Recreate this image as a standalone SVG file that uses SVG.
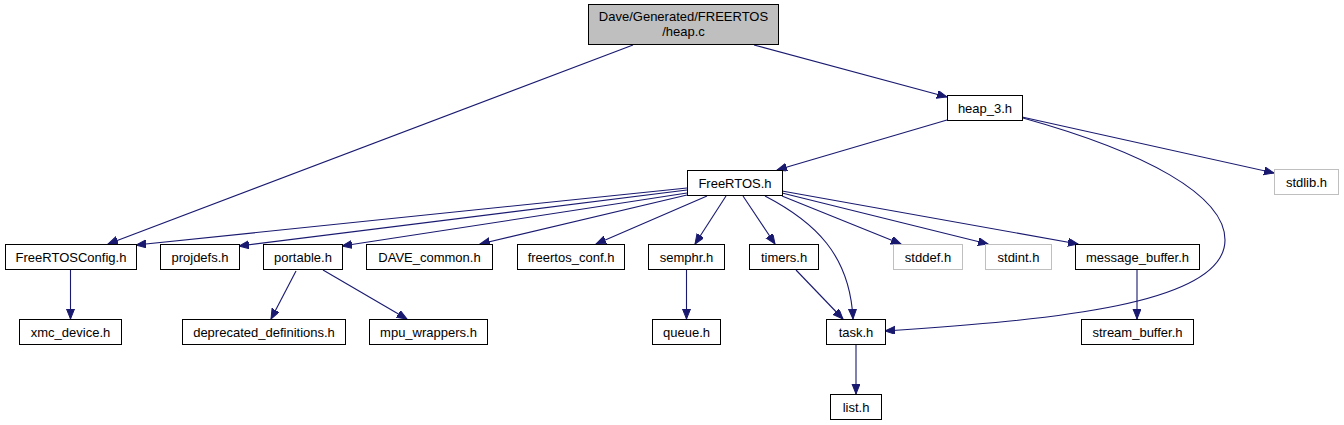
<svg xmlns="http://www.w3.org/2000/svg" width="1344" height="425" viewBox="0 0 1344 425">
<defs>
<style>
.n rect{fill:#fff;stroke:#000;stroke-width:1}
.n.g rect{stroke:#bfbfbf}
.n.root rect{fill:#bfbfbf}
.n text{font-family:"Liberation Sans",Arial,sans-serif;font-size:13px;fill:#000;text-anchor:middle}
.e path{fill:none;stroke:#191970;stroke-width:1.1;marker-end:url(#ah)}
</style>
<marker id="ah" markerUnits="userSpaceOnUse" markerWidth="12" markerHeight="10" refX="10" refY="4" orient="auto">
<path d="M0,0 L10,4 L0,8 z" fill="#191970" stroke="#191970" stroke-width="1"/>
</marker>
</defs>
<rect width="1344" height="425" fill="#fff"/>
<g id="edges" class="e">
<path d="M633,45 L108,244"/>
<path d="M754,45 L947,97"/>
<path d="M947,120 L777,170"/>
<path d="M1022,117 L1274,173"/>
<path d="M1023,118 C1145,152 1225,195 1225,240 C1225,305 1050,320 885,331"/>
<path d="M687,188 L136,245"/>
<path d="M687,190 L239,246"/>
<path d="M687,193 L342,246"/>
<path d="M687,195 L480,244"/>
<path d="M707,196 L596,244"/>
<path d="M726,196 L695,244"/>
<path d="M743,196 L775,244"/>
<path d="M765,196 C815,222 850,255 853,319"/>
<path d="M782,196 L901,244"/>
<path d="M782,193 L988,244"/>
<path d="M782,191 L1078,244"/>
<path d="M70.5,270 L70.5,319"/>
<path d="M296,271 L271,319"/>
<path d="M323,270 L407,319"/>
<path d="M686.5,270 L686.5,319"/>
<path d="M796,270 L843,319"/>
<path d="M1137,270 L1137,319"/>
<path d="M856,345 L856,394"/>
</g>
<g id="n_heap_c" class="n root"><rect x="588.5" y="4.5" width="190" height="40"/><text x="683.5" y="21">Dave/Generated/FREERTOS</text><text x="683.5" y="35.5">/heap.c</text></g>
<g id="n_heap_3" class="n"><rect x="947.5" y="95.5" width="75" height="25"/><text x="985" y="112.5">heap_3.h</text></g>
<g id="n_stdlib" class="n g"><rect x="1274.5" y="169.5" width="64" height="25"/><text x="1306.5" y="186.5">stdlib.h</text></g>
<g id="n_FreeRTOS" class="n"><rect x="687.5" y="170.5" width="95" height="25"/><text x="735" y="187.5">FreeRTOS.h</text></g>
<g id="n_FreeRTOSConfig" class="n"><rect x="5.5" y="244.5" width="131" height="25"/><text x="71" y="261.5">FreeRTOSConfig.h</text></g>
<g id="n_projdefs" class="n"><rect x="160.5" y="244.5" width="79" height="25"/><text x="200" y="261.5">projdefs.h</text></g>
<g id="n_portable" class="n"><rect x="263.5" y="244.5" width="79" height="25"/><text x="303" y="261.5">portable.h</text></g>
<g id="n_DAVE_common" class="n"><rect x="366.5" y="244.5" width="126" height="25"/><text x="429.5" y="261.5">DAVE_common.h</text></g>
<g id="n_freertos_conf" class="n"><rect x="517.5" y="244.5" width="107" height="25"/><text x="571" y="261.5">freertos_conf.h</text></g>
<g id="n_semphr" class="n"><rect x="648.5" y="244.5" width="76" height="25"/><text x="686.5" y="261.5">semphr.h</text></g>
<g id="n_timers" class="n"><rect x="749.5" y="244.5" width="69" height="25"/><text x="784" y="261.5">timers.h</text></g>
<g id="n_stddef" class="n g"><rect x="893.5" y="244.5" width="69" height="25"/><text x="928" y="261.5">stddef.h</text></g>
<g id="n_stdint" class="n g"><rect x="985.5" y="244.5" width="66" height="25"/><text x="1018.5" y="261.5">stdint.h</text></g>
<g id="n_message_buffer" class="n"><rect x="1075.5" y="244.5" width="124" height="25"/><text x="1137.5" y="261.5">message_buffer.h</text></g>
<g id="n_xmc_device" class="n"><rect x="19.5" y="319.5" width="102" height="25"/><text x="70.5" y="336.5">xmc_device.h</text></g>
<g id="n_deprecated_definitions" class="n"><rect x="182.5" y="319.5" width="163" height="25"/><text x="264" y="336.5">deprecated_definitions.h</text></g>
<g id="n_mpu_wrappers" class="n"><rect x="369.5" y="319.5" width="118" height="25"/><text x="428.5" y="336.5">mpu_wrappers.h</text></g>
<g id="n_queue" class="n"><rect x="652.5" y="319.5" width="68" height="25"/><text x="686.5" y="336.5">queue.h</text></g>
<g id="n_task" class="n"><rect x="826.5" y="319.5" width="59" height="25"/><text x="856" y="336.5">task.h</text></g>
<g id="n_stream_buffer" class="n"><rect x="1081.5" y="319.5" width="112" height="25"/><text x="1137.5" y="336.5">stream_buffer.h</text></g>
<g id="n_list" class="n"><rect x="830.5" y="394.5" width="51" height="25"/><text x="856" y="411.5">list.h</text></g>
</svg>
